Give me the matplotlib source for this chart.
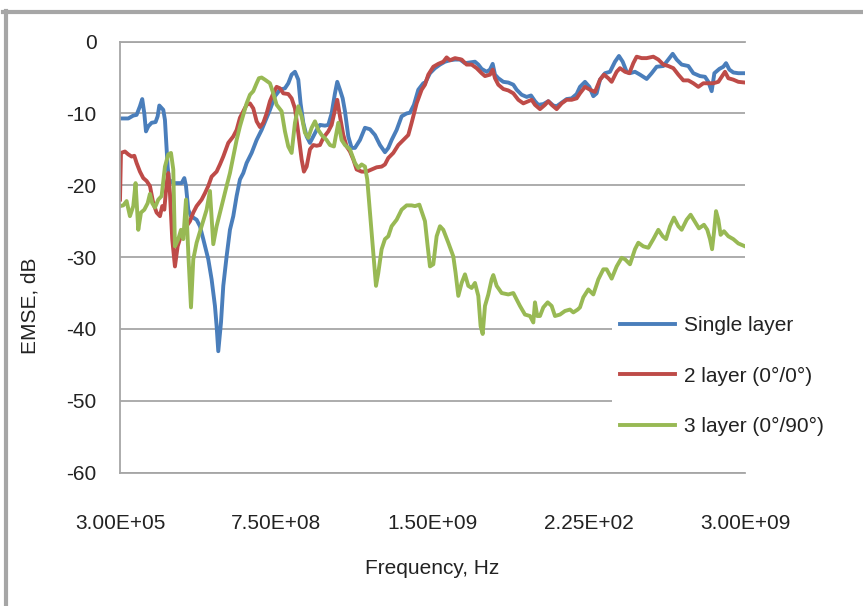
import matplotlib.pyplot as plt
from matplotlib.lines import Line2D

# frequency in MHz, shielding effectiveness in dB
freq_single = [0.3, 40, 64, 80, 96, 107, 117, 125, 136, 152, 171, 181, 189, 208, 216, 224, 229, 235,
               256, 296, 309, 317, 328, 341, 368, 384, 400, 424, 440, 456, 464, 472, 485, 496, 512,
               528, 544, 560, 576, 592, 608, 632, 656, 680, 704,
               720, 744, 768, 792, 808, 824, 840, 856, 867, 880, 896, 912, 928, 944, 960, 984, 1000,
               1016, 1032, 1043, 1056, 1069, 1080, 1096, 1112, 1128, 1152, 1176, 1200, 1224, 1248,
               1272, 1288, 1304, 1328, 1352, 1376, 1392, 1411, 1432, 1456,
               1464, 1488, 1512, 1536, 1560, 1584, 1608, 1632, 1656, 1680, 1704, 1720, 1736, 1760,
               1776, 1789, 1800, 1816, 1840, 1864, 1888, 1904, 1928, 1952, 1973, 1992, 2008, 2032,
               2056, 2080, 2096, 2120, 2144, 2168, 2192,
               2208, 2232, 2253, 2272, 2288, 2304, 2328, 2352, 2376, 2395, 2413, 2432, 2448, 2472,
               2496, 2528, 2552, 2576, 2608, 2632, 2653, 2672, 2696, 2728, 2752, 2784, 2808, 2824,
               2840, 2853, 2877, 2896, 2909, 2925, 2944, 2968, 3000]
emse_single = [-10.7, -10.7, -10.3, -10.2, -9.0, -8.0, -10.0, -12.5, -11.8, -11.3, -11.2, -10.4, -8.9,
               -9.5, -10.9, -15.0, -17.4, -19.2, -19.7, -19.7, -19.0, -20.1, -23.4, -24.3, -24.8,
               -25.7, -27.5, -30.3, -33.1, -36.8, -39.6, -43.1, -39.1, -34.0, -29.9, -26.2, -24.3,
               -21.5, -19.2, -18.3, -16.9, -15.5, -13.7, -12.3, -10.6,
               -9.5, -7.6, -6.7, -6.5, -5.8, -4.6, -4.2, -5.3, -8.6, -11.3, -13.2, -14.1, -13.2,
               -12.3, -11.6, -11.7, -11.6, -10.0, -7.2, -5.6, -6.7, -7.9, -9.7, -13.2, -14.8, -14.8,
               -13.7, -12.0, -12.2, -13.0, -14.4, -15.4, -14.8, -13.7, -12.3, -10.4, -10.0, -9.9,
               -8.8, -6.7, -5.8,
               -5.8, -4.4, -3.7, -3.2, -2.8, -2.6, -2.5, -2.5, -3.0, -2.9, -2.8, -3.2, -3.8, -4.2,
               -3.9, -3.1, -4.6, -5.1, -5.6, -5.7, -6.0, -6.7, -7.4, -7.7, -7.5, -8.3, -8.8, -8.7,
               -8.3, -8.9, -9.0, -8.5, -8.0, -7.9, -7.3,
               -6.3, -5.6, -6.3, -7.6, -7.2, -5.3, -4.4, -4.2, -2.8, -2.0, -2.8, -4.2, -4.4, -4.2,
               -4.6, -5.2, -4.4, -3.5, -3.4, -2.5, -1.7, -2.5, -3.2, -3.4, -4.4, -4.8, -4.9, -5.6,
               -6.9, -4.4, -3.8, -3.5, -3.0, -3.9, -4.3, -4.4, -4.4]

freq_2layer = [0.3, 5, 24, 40, 56, 69, 80, 96, 112, 128, 144, 160, 176, 192, 203, 213, 224, 232, 240,
               251, 264, 277, 288, 304, 320, 336, 352, 368, 392, 408, 424, 440, 464, 480, 496, 520,
               544, 560, 576, 592, 608, 624, 640, 656, 672, 688, 704,
               720, 736, 752, 768, 784, 808, 824, 840, 856, 872, 883, 896, 912, 928, 944, 960, 976,
               1000, 1016, 1032, 1043, 1056, 1072, 1088, 1104, 1120, 1136, 1160, 1184, 1208, 1232,
               1256, 1272, 1288, 1312, 1336, 1360, 1384, 1400, 1424, 1448,
               1464, 1480, 1504, 1528, 1552, 1568, 1584, 1608, 1640, 1664, 1688, 1712, 1736, 1752,
               1776, 1789, 1800, 1816, 1840, 1864, 1888, 1912, 1936, 1960, 1976, 1992, 2016, 2040,
               2056, 2072, 2096, 2120, 2144, 2168, 2192,
               2208, 2232, 2256, 2280, 2304, 2323, 2344, 2360, 2384, 2400, 2424, 2445, 2464, 2480,
               2504, 2528, 2560, 2584, 2608, 2632, 2656, 2680, 2704, 2728, 2752, 2776, 2800, 2824,
               2848, 2872, 2888, 2904, 2920, 2944, 2968, 3000]
emse_2layer = [-22.0, -15.5, -15.3, -15.7, -16.0, -15.9, -16.9, -18.1, -19.0, -19.4, -20.1, -22.5,
               -23.8, -24.3, -22.9, -23.4, -19.7, -18.3, -21.1, -27.5, -31.3, -28.5, -27.5, -26.6,
               -25.7, -25.0, -23.8, -22.9, -22.0, -21.1, -20.1, -18.8, -18.1, -17.1, -16.0, -14.1,
               -13.2, -12.3, -10.6, -9.7, -8.8, -8.6, -9.3, -11.1, -11.9, -11.3, -10.0,
               -8.3, -7.2, -6.3, -6.5, -7.2, -7.3, -7.9, -9.3, -12.7, -16.4, -18.1, -17.4, -15.0,
               -14.4, -14.5, -14.4, -13.4, -12.5, -11.6, -9.5, -8.1, -10.4, -13.0, -14.6, -15.3,
               -16.4, -17.8, -18.1, -18.1, -17.8, -17.5, -17.4, -17.1, -16.2, -15.5, -14.4, -13.7,
               -13.0, -11.3, -8.6, -6.7,
               -6.0, -4.6, -3.5, -3.1, -2.8, -2.2, -2.6, -2.3, -2.5, -3.2, -3.2, -3.7, -4.4, -4.8,
               -4.6, -3.9, -5.1, -6.0, -6.6, -6.8, -7.2, -8.1, -8.6, -8.3, -8.1, -8.8, -9.4, -8.8,
               -8.3, -8.8, -9.4, -8.6, -8.1, -8.1, -7.9,
               -7.2, -6.3, -6.7, -7.0, -5.3, -4.6, -5.1, -5.6, -4.2, -3.7, -4.2, -4.4, -3.0, -2.1,
               -2.3, -2.3, -2.1, -2.5, -3.2, -3.4, -3.7, -4.6, -5.4, -5.4, -5.8, -6.3, -5.8, -5.8,
               -5.8, -5.6, -4.9, -4.2, -5.1, -5.3, -5.6, -5.7]

freq_3layer = [0.3, 16, 32, 48, 64, 75, 88, 101, 117, 133, 144, 155, 168, 184, 200, 216, 232, 245,
               256, 264, 280, 293, 304, 317, 328, 341, 352, 368, 392, 416, 432, 448, 464, 488, 512,
               528, 544, 560, 576, 592, 608, 624, 640, 656, 667, 680, 696,
               720, 736, 752, 776, 792, 808, 824, 840, 856, 872, 888, 904, 920, 936, 952, 968, 992,
               1008, 1027, 1048, 1064, 1080, 1104, 1128, 1144, 1160, 1176, 1187, 1200, 1213, 1229,
               1240, 1256, 1272, 1288, 1304, 1328, 1352, 1376, 1400, 1416, 1437, 1456,
               1464, 1477, 1488, 1504, 1520, 1536, 1552, 1576, 1600, 1611, 1624, 1640, 1656, 1672,
               1688, 1704, 1720, 1731, 1741, 1752, 1768, 1784, 1792, 1808, 1832, 1864, 1888, 1904,
               1920, 1944, 1968, 1984, 1992, 2003, 2016, 2032, 2053, 2072, 2088, 2112, 2136, 2160,
               2176, 2197,
               2208, 2224, 2248, 2272, 2296, 2320, 2336, 2360, 2384, 2408, 2424, 2448, 2472, 2488,
               2512, 2536, 2560, 2584, 2605, 2621, 2640, 2659, 2680, 2696, 2720, 2739, 2760, 2779,
               2803, 2819, 2832, 2842, 2851, 2861, 2872, 2883, 2899, 2920, 2944, 2968, 3000]
emse_3layer = [-22.9, -22.8, -22.2, -24.3, -22.9, -19.7, -26.2, -23.8, -23.4, -22.5, -21.2, -22.5,
               -23.1, -22.0, -21.5, -17.4, -15.7, -15.5, -17.8, -28.5, -27.5, -26.2, -27.5, -22.0,
               -29.4, -37.0, -30.3, -28.0, -25.7, -23.4, -20.8, -28.2, -25.7, -22.9, -20.1, -18.3,
               -16.0, -13.7, -11.8, -10.2, -8.6, -7.4, -6.9, -5.8, -5.1, -5.0, -5.3,
               -5.8, -7.2, -8.8, -9.7, -12.5, -14.6, -15.5, -11.3, -9.0, -10.4, -12.7, -13.4, -12.0,
               -11.1, -12.3, -13.0, -13.7, -14.4, -14.6, -11.3, -13.7, -14.4, -15.0, -16.9, -17.6,
               -17.1, -17.4, -19.2, -23.8, -28.5, -34.0, -32.2, -28.9, -27.5, -27.1, -25.7, -24.8,
               -23.4, -22.8, -22.8, -22.9, -22.7, -24.3,
               -25.0, -28.5, -31.3, -31.0, -27.1, -25.7, -26.2, -28.0, -29.9, -32.2, -35.4, -33.6,
               -32.4, -34.0, -34.3, -33.6, -35.4, -39.6, -40.7, -36.8, -35.2, -33.1, -32.5, -34.0,
               -35.0, -35.2, -35.0, -35.9, -36.8, -38.0, -38.2, -39.1, -36.3, -38.2, -38.2, -37.0,
               -36.3, -36.8, -38.2, -38.0, -37.5, -37.3, -37.7, -37.3,
               -37.0, -35.6, -34.5, -35.2, -33.1, -31.7, -31.7, -33.0, -31.3, -30.1, -30.3, -31.0,
               -28.9, -28.0, -28.5, -28.7, -27.5, -26.2, -27.1, -27.5, -25.7, -24.5, -25.7, -26.2,
               -24.8, -24.1, -25.1, -26.0, -25.5, -26.2, -27.5, -28.9, -26.6, -23.6, -24.8, -26.9,
               -26.4, -27.1, -27.5, -28.1, -28.5]

tick_pos = [0.3, 750, 1500, 2250, 3000]
tick_labels = ['3.00E+05', '7.50E+08', '1.50E+09', '2.25E+02', '3.00E+09']
series_names = ['Single layer', '2 layer (0°/0°)', '3 layer (0°/90°)']
series_colors = ['#4a7ebb', '#be4b48', '#98b954']

plt.rcParams['font.family'] = ['Liberation Sans', 'DejaVu Sans']
plt.rcParams['axes.unicode_minus'] = False

W, H = 863, 606
fig = plt.figure(figsize=(W / 100, H / 100), dpi=100)
ax = fig.add_axes([120 / W, 1 - 472.6 / H, 625 / W, 431 / H])

grid_col = '#a6a6a6'
for (f, v), name, col in zip([(freq_single, emse_single), (freq_2layer, emse_2layer),
                               (freq_3layer, emse_3layer)], series_names, series_colors):
    ax.plot(f, v, color=col, lw=2.8, label=name, solid_joinstyle='round')

ax.set_xlim(0.3, 3000)
ax.set_ylim(-60, 0)
ax.set_yticks(range(-60, 1, 10))
ax.set_xticks(tick_pos)
ax.set_xticklabels(tick_labels)
ax.yaxis.grid(True, color=grid_col, lw=1.3)
ax.set_axisbelow(True)
ax.tick_params(length=0, labelsize=15, colors='#222222')
ax.tick_params(axis='y', pad=17)
ax.tick_params(axis='x', pad=30)
for s in ['top', 'bottom', 'left']:
    ax.spines[s].set_color(grid_col)
    ax.spines[s].set_linewidth(1.3)
ax.spines['right'].set_visible(False)

fig.text(432 / W, 1 - 568 / H, 'Frequency, Hz', ha='center', va='center', fontsize=15, color='#222222')
fig.text(30 / W, 1 - 306 / H, 'EMSE, dB', ha='center', va='center', rotation=90, fontsize=15,
         color='#222222')

leg = ax.legend(loc='center left', bbox_to_anchor=(612 / W, 1 - 376 / H), bbox_transform=fig.transFigure,
                frameon=True, facecolor='white', edgecolor='none', framealpha=1, fontsize=15,
                handlelength=2.6, handletextpad=0.45, labelspacing=1.5, borderpad=0.4, borderaxespad=0)
leg.set_zorder(5)
for t in leg.get_texts():
    t.set_color('#222222')

# outer frame (top and left edges)
fig.add_artist(Line2D([3 / W, 1], [1 - 12 / H] * 2, transform=fig.transFigure, color='#a6a6a6', lw=3))
fig.add_artist(Line2D([6 / W] * 2, [0, 1 - 10.5 / H], transform=fig.transFigure, color='#a6a6a6', lw=3))

fig.savefig('out.png', dpi=100)
